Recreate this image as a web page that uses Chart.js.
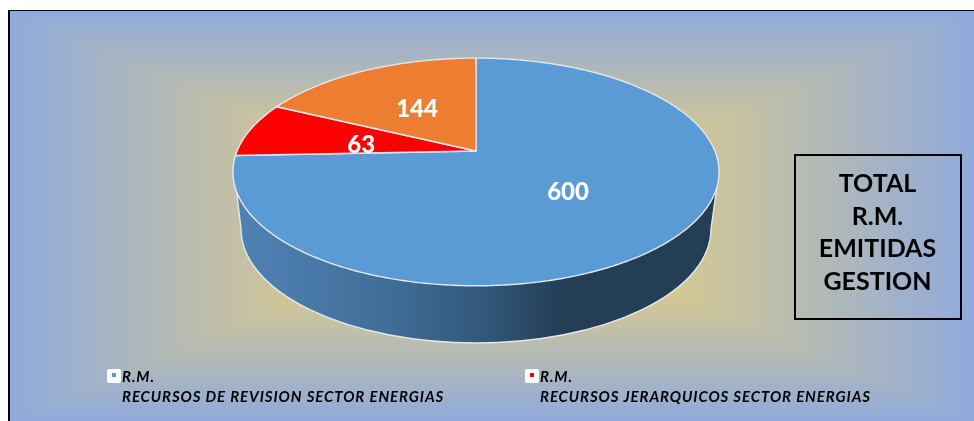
<!DOCTYPE html>
<html>
<head>
<meta charset="utf-8">
<style>html,body{margin:0;padding:0;background:#fff}canvas{display:block}</style>
<script src="https://cdn.jsdelivr.net/npm/chart.js@4"></script>
</head>
<body>
<canvas id="c" width="974" height="421"></canvas>
<script>
const categories = ["RECURSOS DE REVISION SECTOR ENERGIAS", "RECURSOS JERARQUICOS SECTOR ENERGIAS", "OTROS"];
const values = [600, 63, 144];
const sliceColors = ["#5B9BD5", "#FF0000", "#ED7D31"];
const legendPrefix = "R.M.";
const boxLines = ["TOTAL", "R.M.", "EMITIDAS", "GESTION"];

const FONT = "Lato, sans-serif";
const P = {cx: 476, cy: 151, a: 238.9, b: 110, d: -0.184};
const labelNudgeY = [1, 5, 1];
function proj(r, ang) {
  const X = r * Math.cos(ang), Y = r * Math.sin(ang), w = 1 + P.d * Y;
  return [P.cx + P.a * X / w, P.cy + P.b * Y / w];
}
let bgCache = null;
function background(ctx) {
  if (!bgCache) {
    const x0 = 10, y0 = 11, W = 964, H = 410;
    const off = document.createElement("canvas"); off.width = W; off.height = H;
    const oc = off.getContext("2d"), img = oc.createImageData(W, H);
    const outer = [143, 170, 220], inner = [255, 217, 102];
    for (let y = 0; y < H; y++) for (let x = 0; x < W; x++) {
      const t = Math.max(Math.abs(x - W / 2) / (W / 2), Math.abs(y - H / 2) / (H / 2));
      const i = (y * W + x) * 4;
      for (let k = 0; k < 3; k++) img.data[i + k] = outer[k] + (inner[k] - outer[k]) * (1 - t);
      img.data[i + 3] = 255;
    }
    oc.putImageData(img, 0, 0);
    bgCache = {off, x0, y0};
  }
  ctx.drawImage(bgCache.off, bgCache.x0, bgCache.y0);
  ctx.fillStyle = "#000";
  ctx.fillRect(8, 10, 966, 1);
  ctx.fillRect(8, 10, 2, 411);
}
function wall(ctx) {
  const g = ctx.createLinearGradient(236, 0, 717, 0);
  g.addColorStop(0, "#5082B5");
  g.addColorStop(0.3, "#416F9A");
  g.addColorStop(0.5, "#34597D");
  g.addColorStop(0.68, "#233E55");
  g.addColorStop(1, "#233E55");
  ctx.beginPath();
  ctx.moveTo(236, 186);
  ctx.lineTo(241, 229);
  ctx.ellipse(476, 229, 235, 114, 0, Math.PI, 0, true);
  ctx.lineTo(717, 186);
  ctx.lineTo(476, 172);
  ctx.closePath();
  ctx.fillStyle = g; ctx.fill();
  ctx.beginPath();
  ctx.moveTo(236, 186);
  ctx.lineTo(241, 229);
  ctx.ellipse(476, 229, 235, 114, 0, Math.PI, 0, true);
  ctx.lineTo(717, 186);
  ctx.strokeStyle = "#E4E8EC"; ctx.lineWidth = 1.4; ctx.stroke();
}
const pie3d = {
  id: "pie3d",
  beforeDraw(chart) { background(chart.ctx); },
  beforeDatasetDraw(chart, args) {
    const ctx = chart.ctx, arcs = chart.getDatasetMeta(args.index).data;
    ctx.save();
    wall(ctx);
    arcs.forEach(el => {
      const p = el.getProps(["startAngle", "endAngle"], true);
      ctx.beginPath();
      ctx.moveTo(P.cx, P.cy);
      const n = Math.ceil((p.endAngle - p.startAngle) * 90);
      for (let i = 0; i <= n; i++) {
        const q = proj(1, p.startAngle + (p.endAngle - p.startAngle) * i / n);
        ctx.lineTo(q[0], q[1]);
      }
      ctx.closePath();
      ctx.fillStyle = el.options.backgroundColor; ctx.fill();
      ctx.strokeStyle = el.options.borderColor; ctx.lineWidth = el.options.borderWidth;
      ctx.lineJoin = "round"; ctx.stroke();
    });
    ctx.fillStyle = "#fff";
    ctx.font = "900 24px " + FONT;
    ctx.textAlign = "center"; ctx.textBaseline = "middle";
    arcs.forEach((el, i) => {
      const p = el.getProps(["startAngle", "endAngle"], true);
      const q = proj(0.5, (p.startAngle + p.endAngle) / 2);
      ctx.fillText(String(values[i]), q[0], q[1] + labelNudgeY[i]);
    });
    ctx.restore();
    return false;
  },
  afterDraw(chart) {
    const ctx = chart.ctx;
    ctx.save();
    ctx.strokeStyle = "#000"; ctx.lineWidth = 2;
    ctx.strokeRect(795, 155, 166, 164);
    ctx.fillStyle = "#000"; ctx.textAlign = "center"; ctx.textBaseline = "alphabetic";
    ctx.font = "bold 25px " + FONT;
    boxLines.forEach((t, i) => ctx.fillText(t, 877.5, 192 + i * 32.5));
    [[107, 122, 0], [525, 540, 1]].forEach(([mx, tx, i]) => {
      ctx.fillStyle = "#fff";
      ctx.beginPath(); ctx.roundRect(mx, 369, 14, 14, 2); ctx.fill();
      ctx.fillStyle = sliceColors[i];
      ctx.fillRect(mx + 5, 373, 4, 4);
      ctx.fillStyle = "#000"; ctx.textAlign = "left";
      ctx.font = "italic bold 15px " + FONT;
      ctx.letterSpacing = "0.9px";
      ctx.fillText(legendPrefix, tx, 381.5);
      ctx.fillText(categories[i], tx, 402);
      ctx.letterSpacing = "0px";
    });
    ctx.restore();
  }
};
new Chart(document.getElementById("c"), {
  type: "pie",
  data: {
    labels: categories,
    datasets: [{data: values, backgroundColor: sliceColors, borderColor: "#E4E8EC", borderWidth: 1.4}]
  },
  options: {
    responsive: false,
    animation: false,
    plugins: {legend: {display: false}, tooltip: {enabled: false}}
  },
  plugins: [pie3d]
});
</script>
</body>
</html>
